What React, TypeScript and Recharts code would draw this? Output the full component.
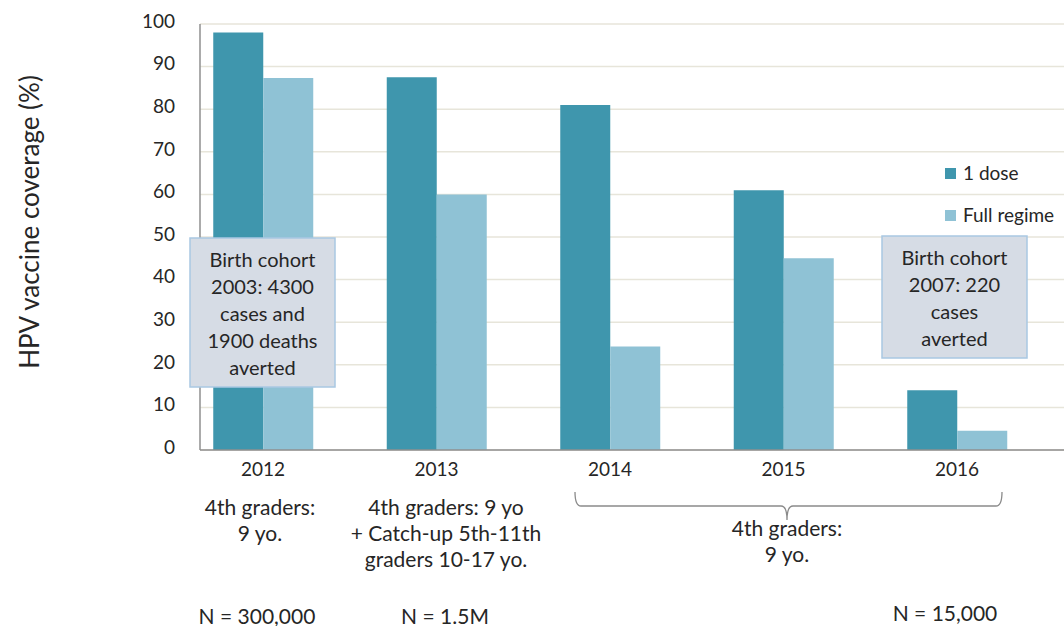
import React from "react";
import {
  BarChart,
  Bar,
  XAxis,
  YAxis,
  CartesianGrid,
} from "recharts";

// values
const YEARS = ["2012", "2013", "2014", "2015", "2016"];
const ONE_DOSE = [98, 87.5, 81, 61, 14];
const FULL_REGIME = [87.3, 60, 24.3, 45, 4.5];
const Y_TICKS = [0, 10, 20, 30, 40, 50, 60, 70, 80, 90, 100];

const SERIES = [
  { key: "oneDose", name: "1 dose", color: "#3f96ad" },
  { key: "fullRegime", name: "Full regime", color: "#8fc2d5" },
];

const data = YEARS.map((year, i) => ({
  year,
  oneDose: ONE_DOSE[i],
  fullRegime: FULL_REGIME[i],
}));

const FONT = "Lato, 'Open Sans', sans-serif";
const TEXT = "#262626";

function LegendBox() {
  return (
    <div
      style={{
        position: "absolute",
        left: 945,
        top: 161,
        fontFamily: FONT,
        fontSize: 19,
        color: TEXT,
        lineHeight: "24px",
      }}
    >
      {SERIES.map((s, i) => (
        <div
          key={s.key}
          style={{ display: "flex", alignItems: "center", marginTop: i ? 18 : 0, whiteSpace: "nowrap" }}
        >
          <span style={{ width: 11, height: 11, background: s.color, marginRight: 7 }} />
          {s.name}
        </div>
      ))}
    </div>
  );
}

function Lines({ x, y, lines, step = 26, size = 21 }: { x: number; y: number; lines: string[]; step?: number; size?: number }) {
  return (
    <>
      {lines.map((t, i) => (
        <text
          key={i}
          x={x}
          y={y + i * step}
          textAnchor="middle"
          dominantBaseline="central"
          fontSize={size}
          fill={TEXT}
        >
          {t}
        </text>
      ))}
    </>
  );
}

export default function App() {
  return (
    <div style={{ position: "relative", width: 1064, height: 626, overflow: "hidden", background: "#fff" }}>
      <style>{`body{margin:0}`}</style>
      <BarChart
        width={1064}
        height={626}
        data={data}
        margin={{ top: 24, right: 0, left: 0, bottom: 146 }}
        barGap={0}
        barSize={50}
      >
        <CartesianGrid vertical={false} stroke="#e7e5da" strokeWidth={1.5} />
        <XAxis
          dataKey="year"
          height={30}
          padding={{ left: -23.75, right: 20.25 }}
          tickLine={false}
          tickSize={0}
          tickMargin={13}
          axisLine={{ stroke: "#8f8f8f", strokeWidth: 1.5 }}
          tick={{ fontSize: 19, fill: TEXT, fontFamily: FONT }}
        />
        <YAxis
          width={200}
          domain={[0, 100]}
          ticks={Y_TICKS}
          interval={0}
          tickLine={false}
          tickSize={0}
          tickMargin={25}
          axisLine={{ stroke: "#8f8f8f", strokeWidth: 1.5 }}
          tick={{ fontSize: 19, fill: TEXT, fontFamily: FONT, dy: -3 }}
        />
        {SERIES.map((s) => (
          <Bar key={s.key} dataKey={s.key} name={s.name} fill={s.color} isAnimationActive={false} />
        ))}
      </BarChart>

      <LegendBox />

      <svg
        width={1064}
        height={626}
        style={{ position: "absolute", left: 0, top: 0, pointerEvents: "none", fontFamily: FONT }}
      >
        <text
          transform="translate(29,222) rotate(-90)"
          textAnchor="middle"
          dominantBaseline="central"
          fontSize={26}
          fill={TEXT}
        >
          HPV vaccine coverage (%)
        </text>

        <rect x={190} y={238} width={145} height={149} fill="#d6dce5" stroke="#a9c8e2" strokeWidth={1.5} />
        <Lines x={262.5} y={259} step={27} size={20} lines={["Birth cohort", "2003: 4300", "cases and", "1900 deaths", "averted"]} />

        <rect x={882} y={236} width={145} height={122} fill="#d6dce5" stroke="#a9c8e2" strokeWidth={1.5} />
        <Lines x={954.5} y={257} step={27} size={20} lines={["Birth cohort", "2007: 220", "cases", "averted"]} />

        <Lines x={260} y={506} lines={["4th graders:", "9 yo."]} />
        <Lines x={446} y={506} lines={["4th graders: 9 yo", "+ Catch-up 5th-11th", "graders 10-17 yo."]} />

        <path
          d="M575,492 Q575,506 581,506 L781,506 Q787,506 787,520 Q787,506 793,506 L996,506 Q1002,506 1002,492"
          fill="none"
          stroke="#8a8a8a"
          strokeWidth={1.3}
        />
        <Lines x={787} y={527} lines={["4th graders:", "9 yo."]} />

        <Lines x={257} y={615} lines={["N = 300,000"]} />
        <Lines x={445} y={615} lines={["N = 1.5M"]} />
        <Lines x={945} y={612} lines={["N = 15,000"]} />
      </svg>
    </div>
  );
}
